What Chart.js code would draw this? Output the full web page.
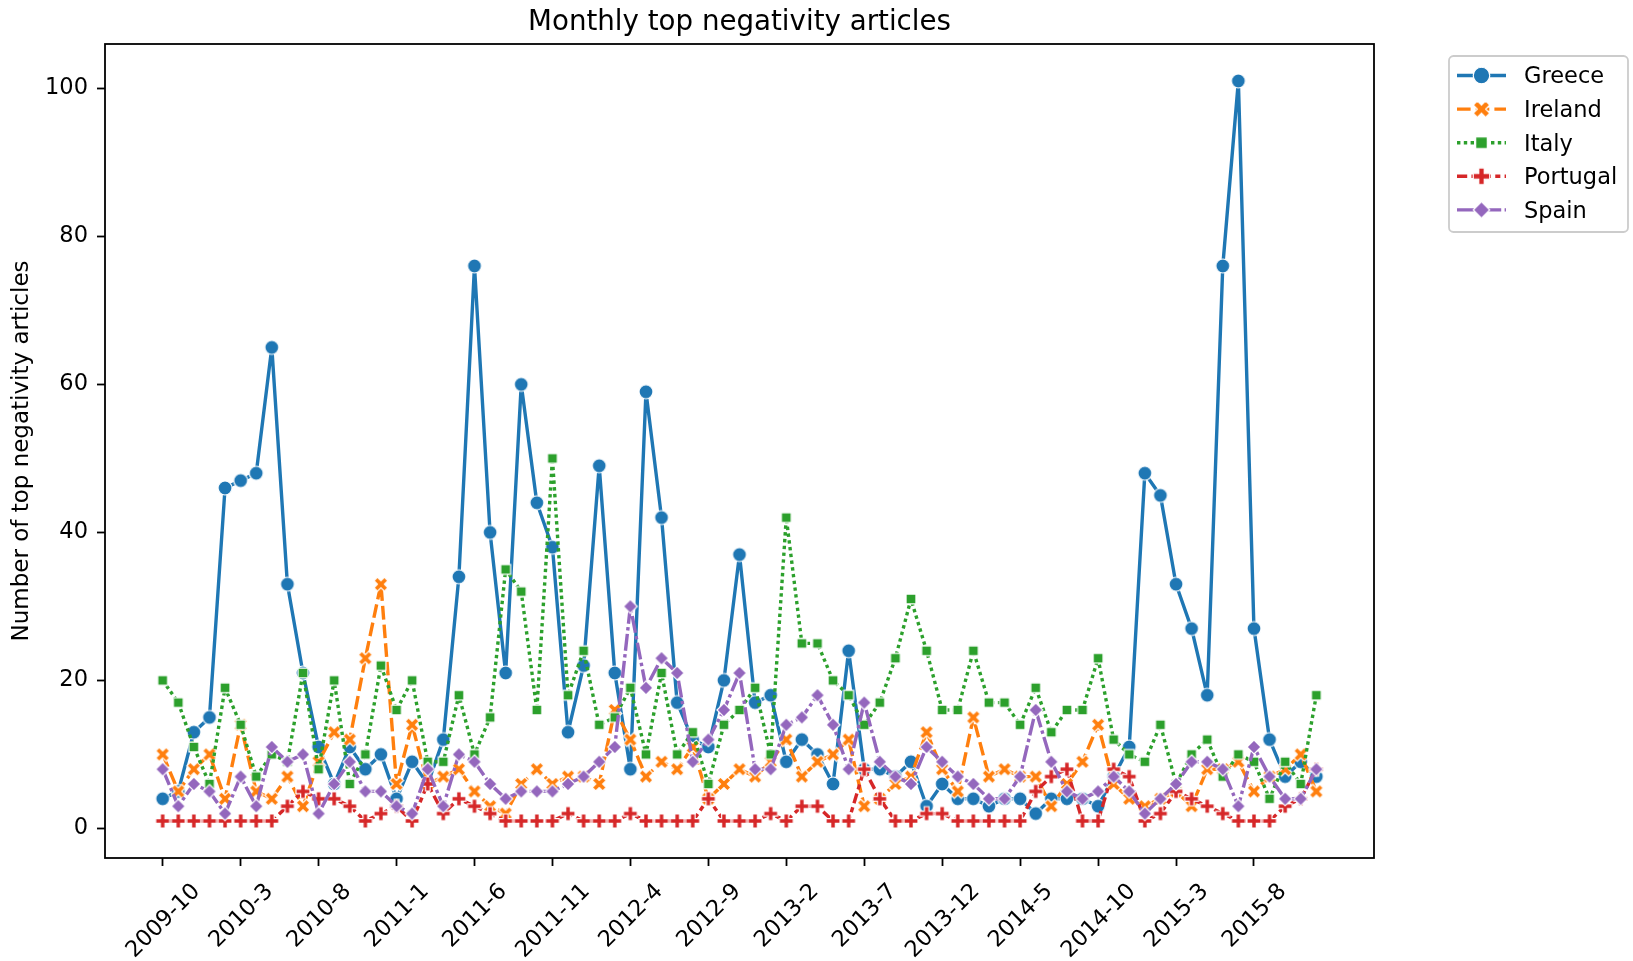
<!DOCTYPE html>
<html>
<head>
<meta charset="utf-8">
<title>Monthly top negativity articles</title>
<script src="https://cdn.jsdelivr.net/npm/chart.js@4.4.1/dist/chart.umd.min.js"></script>
<style>
  html, body { margin: 0; padding: 0; background: #fff; }
  canvas { display: block; }
</style>
</head>
<body>
<canvas id="negativity-chart" width="1633" height="961"></canvas>
<script>
// Monthly top negativity articles per country
// ------------------------------

var months = [
    '2009-10', '2009-11', '2009-12',
    '2010-1', '2010-2', '2010-3', '2010-4', '2010-5', '2010-6', '2010-7', '2010-8', '2010-9', '2010-10', '2010-11', '2010-12',
    '2011-1', '2011-2', '2011-3', '2011-4', '2011-5', '2011-6', '2011-7', '2011-8', '2011-9', '2011-10', '2011-11', '2011-12',
    '2012-1', '2012-2', '2012-3', '2012-4', '2012-5', '2012-6', '2012-7', '2012-8', '2012-9', '2012-10', '2012-11', '2012-12',
    '2013-1', '2013-2', '2013-3', '2013-4', '2013-5', '2013-6', '2013-7', '2013-8', '2013-9', '2013-10', '2013-11', '2013-12',
    '2014-1', '2014-2', '2014-3', '2014-4', '2014-5', '2014-6', '2014-7', '2014-8', '2014-9', '2014-10', '2014-11', '2014-12',
    '2015-1', '2015-2', '2015-3', '2015-4', '2015-5', '2015-6', '2015-7', '2015-8', '2015-9', '2015-10', '2015-11', '2015-12'
];

var tickLabels = ['2009-10', '2010-3', '2010-8', '2011-1', '2011-6', '2011-11', '2012-4', '2012-9',
    '2013-2', '2013-7', '2013-12', '2014-5', '2014-10', '2015-3', '2015-8'];
var yTicks = [0, 20, 40, 60, 80, 100];

var greece = [4, 5, 13, 15, 46, 47, 48, 65, 33, 21, 11, 6, 11, 8, 10, 4, 9, 6, 12, 34,
    76, 40, 21, 60, 44, 38, 13, 22, 49, 21, 8, 59, 42, 17, 12, 11, 20, 37, 17, 18,
    9, 12, 10, 6, 24, 8, 8, 7, 9, 3, 6, 4, 4, 3, 4, 4, 2, 4, 4, 4,
    3, 7, 11, 48, 45, 33, 27, 18, 76, 101, 27, 12, 7, 9, 7];
var ireland = [10, 5, 8, 10, 4, 14, 5, 4, 7, 3, 9, 13, 12, 23, 33, 6, 14, 6, 7, 8,
    5, 3, 2, 6, 8, 6, 7, 7, 6, 16, 12, 7, 9, 8, 11, 4, 6, 8, 7, 9,
    12, 7, 9, 10, 12, 3, 4, 6, 7, 13, 8, 5, 15, 7, 8, 7, 7, 3, 6, 9,
    14, 6, 4, 3, 4, 5, 3, 8, 8, 9, 5, 7, 8, 10, 5];
var italy = [20, 17, 11, 6, 19, 14, 7, 10, 9, 21, 8, 20, 6, 10, 22, 16, 20, 9, 9, 18,
    10, 15, 35, 32, 16, 50, 18, 24, 14, 15, 19, 10, 21, 10, 13, 6, 14, 16, 19, 10,
    42, 25, 25, 20, 18, 14, 17, 23, 31, 24, 16, 16, 24, 17, 17, 14, 19, 13, 16, 16,
    23, 12, 10, 9, 14, 6, 10, 12, 7, 10, 9, 4, 9, 6, 18];
var portugal = [1, 1, 1, 1, 1, 1, 1, 1, 3, 5, 4, 4, 3, 1, 2, 3, 1, 6, 2, 4,
    3, 2, 1, 1, 1, 1, 2, 1, 1, 1, 2, 1, 1, 1, 1, 4, 1, 1, 1, 2,
    1, 3, 3, 1, 1, 8, 4, 1, 1, 2, 2, 1, 1, 1, 1, 1, 5, 7, 8, 1,
    1, 8, 7, 1, 2, 5, 4, 3, 2, 1, 1, 1, 3, 4, 8];
var spain = [8, 3, 6, 5, 2, 7, 3, 11, 9, 10, 2, 6, 9, 5, 5, 3, 2, 8, 3, 10,
    9, 6, 4, 5, 5, 5, 6, 7, 9, 11, 30, 19, 23, 21, 9, 12, 16, 21, 8, 8,
    14, 15, 18, 14, 8, 17, 9, 7, 6, 11, 9, 7, 6, 4, 4, 7, 16, 9, 5, 4,
    5, 7, 5, 2, 4, 6, 9, 9, 8, 3, 11, 7, 4, 4, 8];

var FONT = '"DejaVu Sans", "Liberation Sans", sans-serif';
var LW = 3.4;   // 1.5pt line width

// filled seaborn-like markers with a thin white edge
function makeMarker(kind, color, size) {
    var half = size / 2;
    var box = Math.ceil(size + 4);
    var c = document.createElement('canvas');
    c.width = box;
    c.height = box;
    var g = c.getContext('2d');
    g.translate(box / 2, box / 2);
    g.beginPath();
    if (kind === 'circle') {
        g.arc(0, 0, half, 0, Math.PI * 2);
    } else {
        var pts = [];
        if (kind === 'x') {
            pts = [[-1, -2], [0, -1], [1, -2], [2, -1], [1, 0], [2, 1], [1, 2], [0, 1], [-1, 2], [-2, 1], [-1, 0], [-2, -1]]
                .map(function(p) { return [p[0] * size / 4, p[1] * size / 4]; });
        } else if (kind === 'plus') {
            pts = [[-1, -3], [1, -3], [1, -1], [3, -1], [3, 1], [1, 1], [1, 3], [-1, 3], [-1, 1], [-3, 1], [-3, -1], [-1, -1]]
                .map(function(p) { return [p[0] * size / 6, p[1] * size / 6]; });
        } else {
            var rot = kind === 'square' ? Math.PI / 4 : 0;
            for (var k = 0; k < 4; k++) {
                var a = -Math.PI / 2 + rot + k * Math.PI / 2;
                pts.push([half * Math.cos(a), half * Math.sin(a)]);
            }
        }
        g.moveTo(pts[0][0], pts[0][1]);
        for (var j = 1; j < pts.length; j++) g.lineTo(pts[j][0], pts[j][1]);
        g.closePath();
    }
    g.fillStyle = color;
    g.fill();
    g.lineWidth = 1.2;
    g.strokeStyle = '#ffffff';
    g.stroke();
    return c;
}

function toPoints(values) {
    return values.map(function(v, i) { return { x: i, y: v }; });
}

function series(label, values, color, dash, marker, order) {
    return {
        label: label,
        data: toPoints(values),
        borderColor: color,
        backgroundColor: color,
        borderWidth: LW,
        borderDash: dash,
        borderCapStyle: 'butt',
        borderJoinStyle: 'round',
        pointStyle: makeMarker(marker, color, 14),
        legendMarker: makeMarker(marker, color, 16.5),
        pointRadius: 7,
        tension: 0,
        order: order
    };
}

var chartData = {
    datasets: [
        series('Greece', greece, '#1f77b4', [], 'circle', 5),
        series('Ireland', ireland, '#ff7f0e', [4 * LW, 1.5 * LW], 'x', 4),
        series('Italy', italy, '#2ca02c', [LW, LW], 'square', 3),
        series('Portugal', portugal, '#d62728', [3 * LW, 1.25 * LW, 1.5 * LW, 1.25 * LW], 'plus', 2),
        series('Spain', spain, '#9467bd', [5 * LW, LW, LW, LW], 'diamond', 1)
    ]
};

// title, axis label, rotated month labels, frame and legend
var decorPlugin = {
    id: 'decor',
    afterDraw: function(chart) {
        var ctx = chart.ctx, area = chart.chartArea;
        ctx.save();
        ctx.fillStyle = '#000';

        // frame
        ctx.lineWidth = 1.8;
        ctx.strokeStyle = '#000';
        ctx.strokeRect(area.left, area.top, area.right - area.left, area.bottom - area.top);

        // title
        ctx.font = '27.7px ' + FONT;
        ctx.textAlign = 'center';
        ctx.textBaseline = 'alphabetic';
        ctx.fillText('Monthly top negativity articles', (area.left + area.right) / 2, 29.5);

        // y axis label
        ctx.save();
        ctx.font = '23px ' + FONT;
        ctx.translate(28, (area.top + area.bottom) / 2);
        ctx.rotate(-Math.PI / 2);
        ctx.fillText('Number of top negativity articles', 0, 0);
        ctx.restore();

        // x tick labels, rotated 45 degrees and centred under the tick
        var xs = chart.scales.x;
        ctx.font = '22.5px ' + FONT;
        ctx.textAlign = 'left';
        var top = area.bottom + 22;
        tickLabels.forEach(function(lab) {
            var px = xs.getPixelForValue(months.indexOf(lab));
            var m = ctx.measureText(lab);
            var w = m.width, a = m.actualBoundingBoxAscent, d = m.actualBoundingBoxDescent;
            var ox = px - 1 - (w + d - a) / (2 * Math.SQRT2);
            var oy = top + (w + a) / Math.SQRT2;
            ctx.save();
            ctx.translate(ox, oy);
            ctx.rotate(-Math.PI / 4);
            ctx.fillText(lab, 0, 0);
            ctx.restore();
        });

        // legend
        var lx = 1449, ly = 56, lw = 179, lh = 176;
        ctx.beginPath();
        ctx.roundRect(lx, ly, lw, lh, 4.5);
        ctx.fillStyle = 'rgba(255,255,255,0.8)';
        ctx.fill();
        ctx.lineWidth = 1.8;
        ctx.strokeStyle = '#cccccc';
        ctx.stroke();
        ctx.font = '22.5px ' + FONT;
        ctx.textBaseline = 'middle';
        chart.data.datasets.forEach(function(ds, i) {
            var y = 75.5 + i * 33.6;
            ctx.beginPath();
            ctx.setLineDash(ds.borderDash);
            ctx.lineWidth = ds.borderWidth;
            ctx.strokeStyle = ds.borderColor;
            ctx.lineCap = 'butt';
            ctx.moveTo(1457, y);
            ctx.lineTo(1506, y);
            ctx.stroke();
            ctx.setLineDash([]);
            var img = ds.legendMarker;
            ctx.drawImage(img, 1481.5 - img.width / 2, y - img.height / 2);
            ctx.fillStyle = '#000';
            ctx.fillText(ds.label, 1524, y + 2);
        });
        ctx.restore();
    }
};

var config = {
    type: 'line',
    data: chartData,
    options: {
        responsive: false,
        animation: false,
        events: [],
        layout: { padding: { top: 44, left: 0, right: 259, bottom: 0 } },
        plugins: {
            legend: { display: false },
            title: { display: false },
            tooltip: { enabled: false }
        },
        scales: {
            x: {
                type: 'linear',
                min: -3.7,
                max: 77.7,
                afterBuildTicks: function(scale) {
                    scale.ticks = tickLabels.map(function(lab) { return { value: months.indexOf(lab) }; });
                },
                afterFit: function(scale) {
                    scale.height = 103;
                    scale.paddingLeft = 0;
                    scale.paddingRight = 0;
                },
                ticks: { display: false },
                grid: { drawOnChartArea: false, drawTicks: true, tickLength: 8, tickColor: '#000', tickWidth: 1.8 },
                border: { display: false }
            },
            y: {
                min: -4,
                max: 106,
                afterBuildTicks: function(scale) {
                    scale.ticks = yTicks.map(function(v) { return { value: v }; });
                },
                afterFit: function(scale) {
                    scale.width = 105;
                    scale.paddingTop = 0;
                    scale.paddingBottom = 0;
                },
                ticks: { color: '#000', padding: 9, font: { family: FONT, size: 22.5 } },
                grid: { drawOnChartArea: false, drawTicks: true, tickLength: 8, tickColor: '#000', tickWidth: 1.8 },
                border: { display: false }
            }
        }
    },
    plugins: [decorPlugin]
};

var negativityChart = new Chart(document.getElementById('negativity-chart'), config);
</script>
</body>
</html>
